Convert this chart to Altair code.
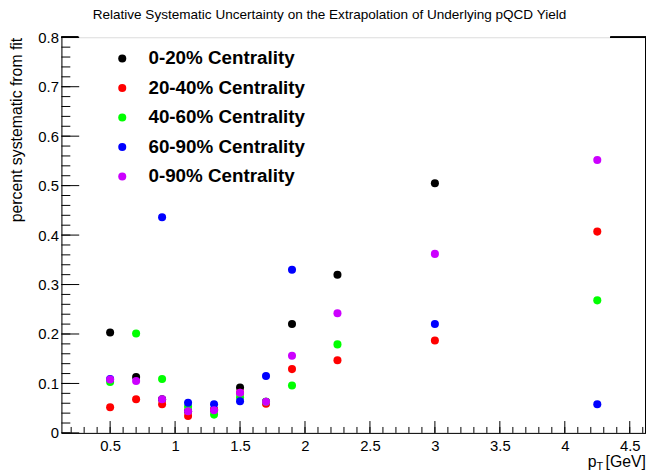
import altair as alt
import pandas as pd

# ---------------- data ----------------
pt = [0.5, 0.7, 0.9, 1.1, 1.3, 1.5, 1.7, 1.9, 2.25, 3.0, 4.25]
series_names = ["0-20% Centrality", "20-40% Centrality", "40-60% Centrality",
                "60-90% Centrality", "0-90% Centrality"]
series_colors = ["#000000", "#ff0000", "#00ff00", "#0000ff", "#cc00ff"]

cent_0_20 = [0.203, 0.113, 0.068, 0.044, 0.047, 0.092, 0.063, 0.220, 0.320, 0.505, None]
cent_20_40 = [0.052, 0.068, 0.058, 0.034, 0.047, 0.081, 0.059, 0.129, 0.147, 0.187, 0.407]
cent_40_60 = [0.103, 0.201, 0.109, 0.053, 0.037, 0.072, 0.063, 0.096, 0.179, None, 0.268]
cent_60_90 = [0.109, None, 0.436, 0.061, 0.058, 0.064, 0.115, 0.330, None, 0.220, 0.058]
cent_0_90 = [0.108, 0.105, 0.068, 0.044, 0.046, 0.081, 0.063, 0.156, 0.242, 0.362, 0.552]
all_series = [cent_0_20, cent_20_40, cent_40_60, cent_60_90, cent_0_90]

y_major = [0.0, 0.1, 0.2, 0.3, 0.4, 0.5, 0.6, 0.7, 0.8]
x_major = [0.5, 1.0, 1.5, 2.0, 2.5, 3.0, 3.5, 4.0, 4.5]
y_minor = [round(i * 0.02, 2) for i in range(0, 41)]
x_minor = [round(0.2 + i * 0.1, 1) for i in range(0, 45)]

title_text = "Relative Systematic Uncertainty on the Extrapolation of Underlying pQCD Yield"
y_title = "percent systematic from fit"

# ---------------- build ----------------
rows = []
for name, vals in zip(series_names, all_series):
    for x, v in zip(pt, vals):
        if v is not None:
            rows.append({"pt": x, "val": v, "series": name})
df = pd.DataFrame(rows)

W, H = 591, 400
FONT = "Liberation Sans"
xscale = alt.Scale(domain=[0.125, 4.625], nice=False, zero=False)
yscale = alt.Scale(domain=[0.0, 0.8], nice=False, zero=False)

xaxis = alt.Axis(values=x_major, format="~g", title=None, grid=False,
                 ticks=False, labelFont=FONT, labelFontSize=15,
                 labelColor="black", labelPadding=6, domainColor="black",
                 labelFlush=False)
yaxis = alt.Axis(values=y_major,
                 labelExpr="datum.value == 0 ? '0' : format(datum.value, '.1f')",
                 title=y_title, titleFont=FONT, titleFontSize=16,
                 titleFontWeight="normal", titleColor="black",
                 titleAnchor="end", titleX=-45, titleY=0, titleAlign="right",
                 titleBaseline="middle", titleAngle=270,
                 grid=False, ticks=False, labelFont=FONT, labelFontSize=15,
                 labelColor="black", labelPadding=3, domainColor="black",
                 labelFlush=False)

points = alt.Chart(df).mark_circle(size=66, opacity=1).encode(
    x=alt.X("pt:Q", scale=xscale, axis=xaxis),
    y=alt.Y("val:Q", scale=yscale, axis=yaxis),
    color=alt.Color("series:N", scale=alt.Scale(domain=series_names, range=series_colors),
                    legend=alt.Legend(orient="none", legendX=52, legendY=12, title=None,
                                      symbolType="circle", symbolSize=66, symbolStrokeWidth=0,
                                      symbolOpacity=1,
                                      labelFont=FONT, labelFontSize=19, labelFontWeight="bold",
                                      labelColor="black", labelOffset=17, rowPadding=9.8,
                                      labelLimit=400, padding=0)),
)

ydf_major = pd.DataFrame({"v": y_major})
ydf_minor = pd.DataFrame({"v": y_minor})
xdf_major = pd.DataFrame({"v": x_major})
xdf_minor = pd.DataFrame({"v": x_minor})

ytick_major = alt.Chart(ydf_major).mark_rule(color="black", strokeWidth=1).encode(
    y=alt.Y("v:Q", scale=yscale, axis=yaxis), x=alt.value(0), x2=alt.value(18))
ytick_minor = alt.Chart(ydf_minor).mark_rule(color="black", strokeWidth=1).encode(
    y=alt.Y("v:Q", scale=yscale, axis=yaxis), x=alt.value(0), x2=alt.value(9))
xtick_major = alt.Chart(xdf_major).mark_rule(color="black", strokeWidth=1).encode(
    x=alt.X("v:Q", scale=xscale, axis=xaxis), y=alt.value(H), y2=alt.value(H - 12))
xtick_minor = alt.Chart(xdf_minor).mark_rule(color="black", strokeWidth=1).encode(
    x=alt.X("v:Q", scale=xscale, axis=xaxis), y=alt.value(H), y2=alt.value(H - 6))

right_edge = alt.Chart(ydf_major).mark_rule(color="black", strokeWidth=1).encode(
    x=alt.value(W), y=alt.value(0), y2=alt.value(H))
top_left = alt.Chart(ydf_major).mark_rule(color="black", strokeWidth=1).encode(
    x=alt.value(0), x2=alt.value(17), y=alt.value(0))
top_right = alt.Chart(ydf_major).mark_rule(color="black", strokeWidth=1).encode(
    x=alt.value(555), x2=alt.value(W), y=alt.value(0))

title = alt.Chart(pd.DataFrame({"t": [title_text]})).mark_text(
    font=FONT, fontSize=13.7, color="black", align="center", baseline="alphabetic").encode(
    text="t:N", x=alt.value(271), y=alt.value(-18))

xt_gev = alt.Chart(pd.DataFrame({"t": ["[GeV]"]})).mark_text(
    font=FONT, fontSize=16, color="black", align="right", baseline="alphabetic").encode(
    text="t:N", x=alt.value(W), y=alt.value(H + 34))
xt_p = alt.Chart(pd.DataFrame({"t": ["p"]})).mark_text(
    font=FONT, fontSize=16, color="black", align="right", baseline="alphabetic").encode(
    text="t:N", x=alt.value(W - 50), y=alt.value(H + 34))
xt_T = alt.Chart(pd.DataFrame({"t": ["T"]})).mark_text(
    font=FONT, fontSize=11, color="black", align="left", baseline="alphabetic").encode(
    text="t:N", x=alt.value(W - 50), y=alt.value(H + 38))

chart = alt.layer(
    points, ytick_minor, ytick_major, xtick_minor, xtick_major,
    right_edge, top_left, top_right,
    title, xt_gev, xt_p, xt_T,
).properties(
    width=W, height=H,
    autosize=alt.AutoSizeParams(type="none"),
    padding={"left": 54, "top": 27, "right": 0, "bottom": 42},
).configure_view(stroke=None).configure(background="white")

chart.save("out.html", embed_options={"renderer": "svg", "actions": False})
